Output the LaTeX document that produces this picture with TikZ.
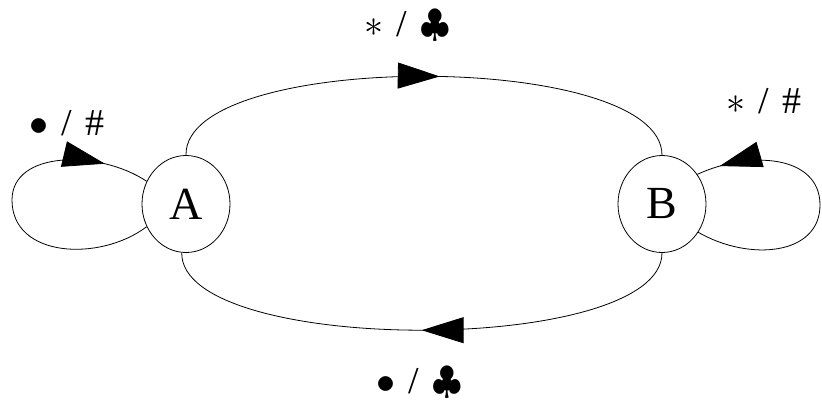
\RequirePackage{fix-cm}
\documentclass[tikz,border=0pt]{standalone}
\usepackage{fontspec}
\setmainfont{Liberation Serif}
\usetikzlibrary{arrows.meta,decorations.markings,shapes.geometric}
\newcommand{\sep}{\hspace{13pt}/\hspace{13pt}}
\begin{document}
\begin{tikzpicture}[x=1pt,y=-1pt,
  state/.style={draw, ellipse, line width=0.8pt, minimum width=88pt, minimum height=97pt, inner sep=0pt, font=\fontsize{46}{50}\selectfont},
  lbl/.style={font=\fontsize{38}{42}\selectfont, inner sep=0pt},
  edge/.style={line width=0.8pt},
  mk/.style={postaction={decorate}, decoration={markings, mark=at position #1 with {\arrow{Triangle[length=42pt,width=26pt]}}}}
]
\useasboundingbox (0,0) rectangle (822,405);
\node[state] (A) at (186,204) {A};
\node[state] (B) at (662,204) {B};
\draw[edge, mk=0.53] (A.north) .. controls (184,50) and (662,50) .. (B.north);
\draw[edge, mk=0.50] (B.south) .. controls (662,356) and (180,356) .. (A.-95);
\draw[edge, mk=0.86] (A.210) .. controls (100,262) and (12,258) .. (12,200) .. controls (12,150) and (100,150) .. (A.150);
\draw[edge, mk=0.92] (B.-38) .. controls (750,262) and (820,255) .. (820,205) .. controls (820,155) and (750,150) .. (B.40);
\node[lbl] (la) at (67,123) {$\bullet$\sep$\#$};
\node[lbl] (lt) at (407,26) {$\ast$\sep$\clubsuit$};
\node[lbl] (lb) at (419,383) {$\bullet$\sep$\clubsuit$};
\node[lbl] (lbB) at (764,101) {$\ast$\sep$\#$};
\end{tikzpicture}
\end{document}
